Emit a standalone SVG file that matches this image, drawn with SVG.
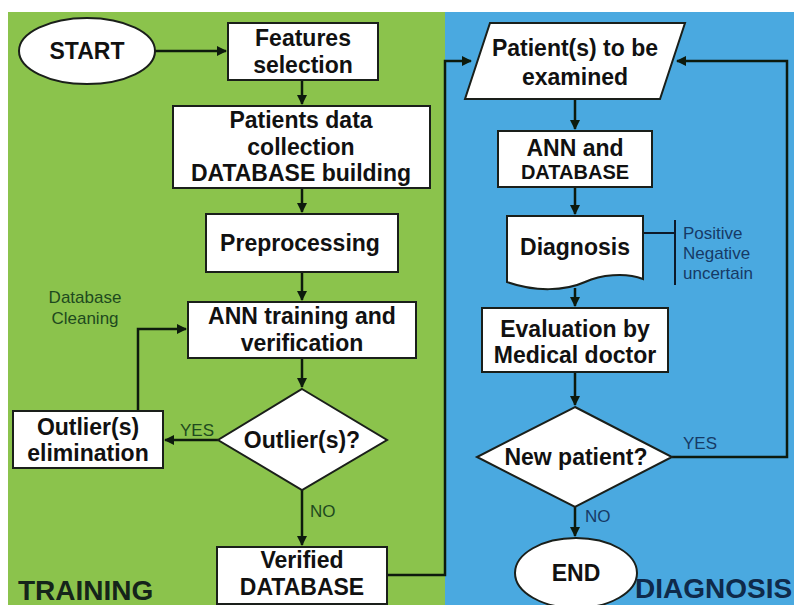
<svg xmlns="http://www.w3.org/2000/svg" width="794" height="605" viewBox="0 0 794 605">
<defs>
<marker id="ah" viewBox="0 0 10 10" refX="9" refY="5" markerWidth="4" markerHeight="4" orient="auto-start-reverse" markerUnits="strokeWidth">
<path d="M0,0 L10,5 L0,10 z" fill="#0d1a0d"/>
</marker>
<style>
.box{fill:#fff;stroke:#1a1f1a;stroke-width:2}
.t{font-family:"Liberation Sans",Arial,sans-serif;font-weight:bold;font-size:23px;fill:#111;text-anchor:middle}
.s{font-family:"Liberation Sans",Arial,sans-serif;font-size:17px}
.g{fill:#1e4a1e}
.b{fill:#163a66}
.c{fill:none;stroke:#0d1a0d;stroke-width:2.5}
.big{font-family:"Liberation Sans",Arial,sans-serif;font-weight:bold;font-size:28px}
</style>
</defs>
<rect x="0" y="0" width="794" height="605" fill="#fff"/>
<rect x="8" y="12" width="437" height="593" fill="#8bc34c"/>
<rect x="445" y="12" width="349" height="593" fill="#4aa9e0"/>

<g id="connectors">
<path class="c" d="M155,51 H226" marker-end="url(#ah)"/>
<path class="c" d="M302,80 V104" marker-end="url(#ah)"/>
<path class="c" d="M302,188 V212" marker-end="url(#ah)"/>
<path class="c" d="M302,272 V300" marker-end="url(#ah)"/>
<path class="c" d="M302,358 V387" marker-end="url(#ah)"/>
<path class="c" d="M218,440 H165" marker-end="url(#ah)"/>
<path class="c" d="M138,411 V329 H186" marker-end="url(#ah)"/>
<path class="c" d="M302,490 V545" marker-end="url(#ah)"/>
<path class="c" d="M387,575 H445 V61 H471" marker-end="url(#ah)"/>
<path class="c" d="M575,99 V129" marker-end="url(#ah)"/>
<path class="c" d="M575,187 V214" marker-end="url(#ah)"/>
<path class="c" d="M575,288 V306" marker-end="url(#ah)"/>
<path class="c" d="M575,372 V405" marker-end="url(#ah)"/>
<path class="c" d="M672,457 H787 V61 H677" marker-end="url(#ah)"/>
<path class="c" d="M575,507 V536" marker-end="url(#ah)"/>
<path d="M643,233 H675 M675,220 V285" fill="none" stroke="#0d1a2a" stroke-width="2"/>
</g>

<g id="start"><ellipse class="box" cx="87" cy="51" rx="68" ry="33"/><text class="t" x="87" y="59">START</text></g>
<g id="features"><rect class="box" x="228" y="23" width="150" height="57"/><text class="t" x="303" y="46">Features</text><text class="t" x="303" y="73">selection</text></g>
<g id="collection"><rect class="box" x="173" y="106" width="257" height="82"/><text class="t" x="301" y="128">Patients data</text><text class="t" x="301" y="155">collection</text><text class="t" x="301" y="181">DATABASE building</text></g>
<g id="preprocessing"><rect class="box" x="206" y="214" width="192" height="58"/><text class="t" x="300" y="251">Preprocessing</text></g>
<g id="ann-training"><rect class="box" x="188" y="302" width="228" height="56"/><text class="t" x="302" y="324">ANN training and</text><text class="t" x="302" y="351">verification</text></g>
<g id="outlier-q"><polygon class="box" points="302,389 387,440 302,490 218,440"/><text class="t" x="302" y="448">Outlier(s)?</text></g>
<g id="outlier-elim"><rect class="box" x="13" y="411" width="150" height="57"/><text class="t" x="88" y="435">Outlier(s)</text><text class="t" x="88" y="461">elimination</text></g>
<g id="verified"><rect class="box" x="217" y="547" width="170" height="57"/><text class="t" x="302" y="568">Verified</text><text class="t" x="302" y="595">DATABASE</text></g>

<g id="patients-in"><polygon class="box" points="490,23 685,23 660,99 465,99"/><text class="t" x="575" y="56">Patient(s) to be</text><text class="t" x="575" y="85">examined</text></g>
<g id="ann-db"><rect class="box" x="498" y="131" width="154" height="56"/><text class="t" x="575" y="156">ANN and</text><text class="t" x="575" y="179" style="font-size:20px">DATABASE</text></g>
<g id="diagnosis"><path class="box" d="M507,216 H643 V279 C625,272 600,275 585,282 C565,291 535,292 507,282 Z"/><text class="t" x="575" y="255">Diagnosis</text></g>
<g id="evaluation"><rect class="box" x="482" y="308" width="186" height="64"/><text class="t" x="575" y="337">Evaluation by</text><text class="t" x="575" y="363">Medical doctor</text></g>
<g id="new-patient"><polygon class="box" points="575,407 672,457 575,507 477,457"/><text class="t" x="576" y="465">New patient?</text></g>
<g id="end"><ellipse class="box" cx="576" cy="573" rx="61" ry="35"/><text class="t" x="576" y="581">END</text></g>

<g id="labels">
<text class="s g" x="85" y="303" text-anchor="middle">Database</text>
<text class="s g" x="85" y="324" text-anchor="middle">Cleaning</text>
<text class="s g" x="180" y="436">YES</text>
<text class="s g" x="310" y="517">NO</text>
<text class="s b" x="683" y="239">Positive</text>
<text class="s b" x="683" y="259">Negative</text>
<text class="s b" x="683" y="279">uncertain</text>
<text class="s b" x="683" y="449">YES</text>
<text class="s b" x="585" y="522">NO</text>
<text class="big" x="18" y="600" fill="#14241a">TRAINING</text>
<text class="big" x="635" y="598" fill="#0f2a4a">DIAGNOSIS</text>
</g>
</svg>
